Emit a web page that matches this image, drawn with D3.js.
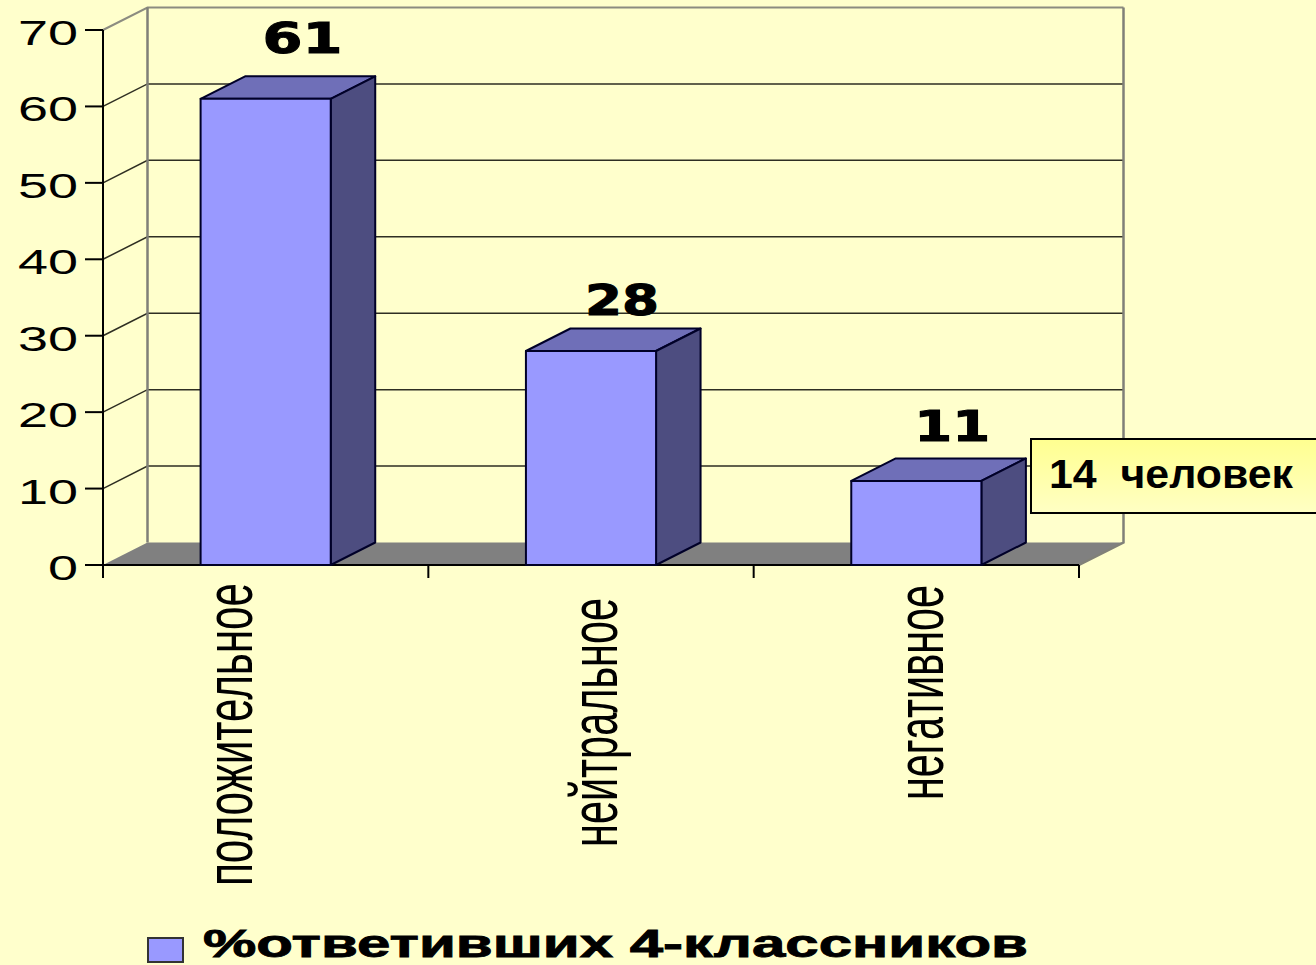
<!DOCTYPE html>
<html>
<head>
<meta charset="utf-8">
<script src="https://cdn.jsdelivr.net/npm/d3@7"></script>
<style>
html,body{margin:0;padding:0;background:#FFFFCC;overflow:hidden}
svg{display:block}
</style>
</head>
<body>
<svg id="c" width="1316" height="965"></svg>
<script>
const categories = ["положительное", "нейтральное", "негативное"];
const values = [61, 28, 11];
const valueLabels = ["61", "28", "11"];
const yTicks = [0, 10, 20, 30, 40, 50, 60, 70];
const legendLabel = "%ответивших 4-классников";
const noteLabel = "14  человек";

const svg = d3.select("#c");
const dx = 44.5, dy = -22.5;
const x = d3.scaleBand().domain(categories).range([103, 1079]);
const y = d3.scaleLinear().domain([0, 70]).range([565, 30]);
const barX = c => x(c) + x.bandwidth() * 0.3;
const barW = x.bandwidth() * 0.4;

const defs = svg.append("defs");
const g = defs.append("linearGradient").attr("id", "note").attr("x1", 0).attr("x2", 0).attr("y1", 0).attr("y2", 1);
g.append("stop").attr("offset", "0%").attr("stop-color", "#FFFF90");
g.append("stop").attr("offset", "100%").attr("stop-color", "#FFFFC4");

// floor
svg.append("polygon").attr("fill", "#808080")
  .attr("points", [[x.range()[0], y(0)], [x.range()[0] + dx, y(0) + dy], [x.range()[1] + dx, y(0) + dy], [x.range()[1], y(0)]].join(" "));

// grid
const gridCol = "#2e2e22";
svg.append("g").selectAll("path").data(yTicks.filter(t => t > 0)).join("path")
  .attr("fill", "none")
  .attr("stroke", t => t === 70 ? "#8c8c80" : gridCol)
  .attr("stroke-width", t => t === 70 ? 2 : 1.5)
  .attr("d", t => `M${x.range()[0]},${y(t)}L${x.range()[0] + dx},${y(t) + dy}L${x.range()[1] + dx},${y(t) + dy}`);

// walls
svg.append("path").attr("fill", "none").attr("stroke", "#808078").attr("stroke-width", 2.5)
  .attr("d", `M${x.range()[0] + dx},${y(70) + dy}V${y(0) + dy}M${x.range()[1] + dx},${y(70) + dy}V${y(0) + dy}L${x.range()[1]},${y(0)}`);

// axes
const axis = svg.append("g").attr("stroke", "#000").attr("stroke-width", 2).attr("fill", "none");
axis.append("path").attr("d", `M${x.range()[0]},${y(70)}V${y(0)}H${x.range()[1]}`);
axis.selectAll(".ty").data(yTicks).join("path").attr("d", t => `M${x.range()[0] - 18},${y(t)}H${x.range()[0]}`);
const xt = [...categories.map(c => x(c)), x.range()[1]];
axis.selectAll(".tx").data(xt).join("path").attr("d", p => `M${p},${y(0)}v13`);

// y labels
const digitW = 30;
svg.append("g").selectAll("text").data(yTicks).join("text")
  .attr("x", t => 78 - String(t).length * digitW)
  .attr("y", t => y(t) + 15)
  .attr("font-family", "Liberation Sans").attr("font-size", 35).attr("fill", "#000")
  .attr("textLength", t => String(t).length * digitW).attr("lengthAdjust", "spacingAndGlyphs")
  .text(t => t);

// bars
const bars = svg.append("g").attr("stroke", "#000028").attr("stroke-width", 2).attr("stroke-linejoin", "round");
categories.forEach((c, i) => {
  const x0 = barX(c), x1 = x0 + barW, yt = y(values[i]), yb = y(0);
  bars.append("polygon").attr("fill", "#6F6FB8")
    .attr("points", [[x0, yt], [x0 + dx, yt + dy], [x1 + dx, yt + dy], [x1, yt]].join(" "));
  bars.append("polygon").attr("fill", "#4D4D80")
    .attr("points", [[x1, yt], [x1 + dx, yt + dy], [x1 + dx, yb + dy], [x1, yb]].join(" "));
  bars.append("rect").attr("fill", "#9999FF").attr("x", x0).attr("y", yt).attr("width", barW).attr("height", yb - yt);
});

// value labels
const labelNudge = [[62, -46, 80], [59, -36, 74], [63, -40, 76]];
svg.append("g").selectAll("text").data(categories).join("text")
  .attr("x", (c, i) => barX(c) + labelNudge[i][0])
  .attr("y", (c, i) => y(values[i]) + labelNudge[i][1])
  .attr("font-family", "DejaVu Sans").attr("font-weight", "bold").attr("font-size", 43).attr("fill", "#000")
  .attr("stroke", "#000").attr("stroke-width", 1)
  .attr("textLength", (c, i) => labelNudge[i][2]).attr("lengthAdjust", "spacingAndGlyphs")
  .text((c, i) => valueLabels[i]);

// category labels
const catBox = [[252, 583, 303], [617, 598, 249], [943, 585, 215]];
svg.append("g").selectAll("text").data(categories).join("text")
  .attr("transform", (c, i) => `translate(${catBox[i][0]},${catBox[i][1] + catBox[i][2]}) rotate(-90)`)
  .attr("font-family", "Liberation Sans").attr("font-size", 67).attr("fill", "#000")
  .attr("textLength", (c, i) => catBox[i][2]).attr("lengthAdjust", "spacingAndGlyphs")
  .text(c => c);

// legend
svg.append("rect").attr("x", 148).attr("y", 938).attr("width", 35).attr("height", 24)
  .attr("fill", "#9999FF").attr("stroke", "#333").attr("stroke-width", 2);
svg.append("text").attr("x", 203).attr("y", 957)
  .attr("font-family", "Liberation Sans").attr("font-weight", "bold").attr("font-size", 38).attr("fill", "#000")
  .attr("stroke", "#000").attr("stroke-width", 0.8)
  .attr("textLength", 825).attr("lengthAdjust", "spacingAndGlyphs").text(legendLabel);

// note
svg.append("rect").attr("x", 1031).attr("y", 439).attr("width", 300).attr("height", 74)
  .attr("fill", "url(#note)").attr("stroke", "#000").attr("stroke-width", 2);
svg.append("text").attr("x", 1049).attr("y", 488).style("white-space", "pre")
  .attr("font-family", "Liberation Sans").attr("font-weight", "bold").attr("font-size", 41).attr("fill", "#000")
  .attr("textLength", 244).attr("lengthAdjust", "spacingAndGlyphs").text(noteLabel);
</script>
</body>
</html>
